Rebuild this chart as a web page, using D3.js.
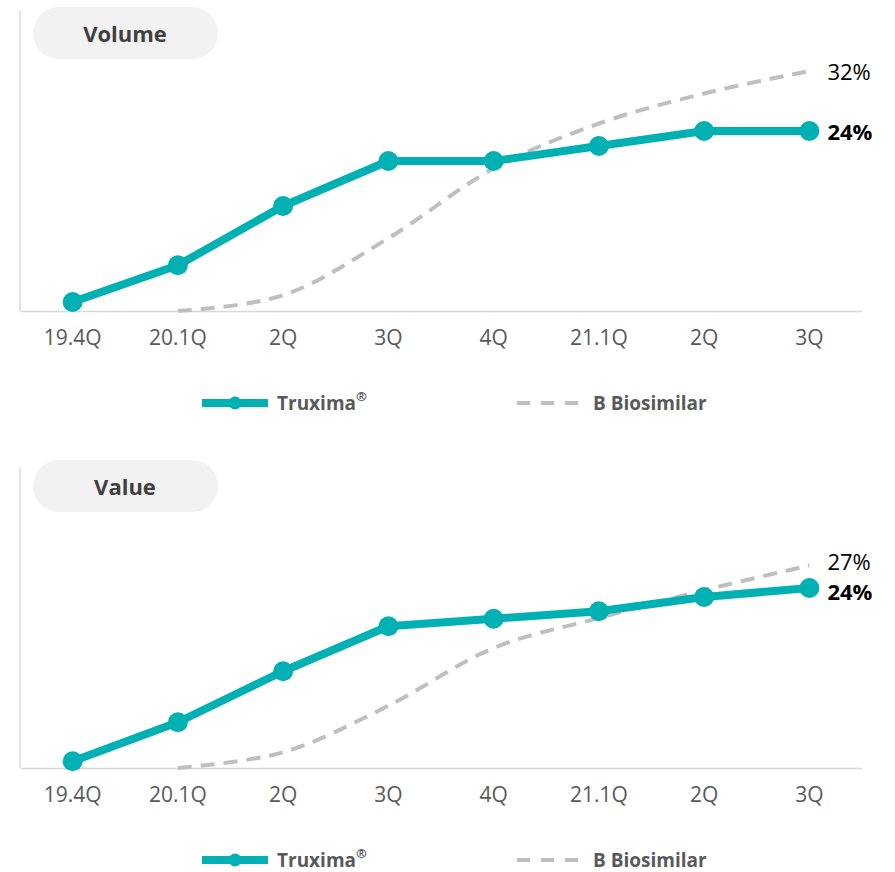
<!DOCTYPE html>
<html>
<head>
<meta charset="utf-8">
<script src="https://cdn.jsdelivr.net/npm/d3@7"></script>
<style>
  body { margin: 0; background: #fff; }
  svg text { font-family: "Open Sans", "Noto Sans", sans-serif; }
</style>
</head>
<body>
<div id="chart"></div>
<script>
//Chart data
var quarters = ["19.4Q", "20.1Q", "2Q", "3Q", "4Q", "21.1Q", "2Q", "3Q"];
var volumeTruxima = [1.2, 6.1, 14, 20, 20, 22, 24, 24];
var volumeBio = [null, 0, 2.1, 9.7, 19, 25, 29, 32];
var valueTruxima = [0.9, 6.1, 12.9, 18.9, 19.9, 20.9, 22.8, 24];
var valueBio = [null, 0, 2.1, 8.3, 16, 20, 23.7, 27];
var seriesNames = ["Truxima", "B Biosimilar"];

var svgWidth = 895;
var svgHeight = 872;
var teal = "#00b0b3";
var grey = "#bfbfbf";

var svg = d3.select("#chart")
    .append("svg")
    .attr("width", svgWidth)
    .attr("height", svgHeight);

//x scale shared by both panels (index based, labels repeat)
var xScale = d3.scaleBand()
    .domain(d3.range(quarters.length))
    .range([20, 862]);
var xMid = i => xScale(i) + xScale.bandwidth() / 2;

function drawPanel(offset, title, titleShift, trux, bio, labelOffsets) {
    var g = svg.append("g").attr("transform", `translate(0, ${offset})`);

    var yScale = d3.scaleLinear().domain([0, 40]).range([311, 11]);

    //left axis line
    g.append("line")
        .attr("x1", 20).attr("x2", 20)
        .attr("y1", yScale(40)).attr("y2", yScale(0))
        .attr("stroke", "#d9d9d9").attr("stroke-width", 1.5);

    //bottom axis
    var xAxis = g.append("g")
        .attr("transform", `translate(0, ${yScale(0)})`)
        .call(d3.axisBottom(xScale).tickSize(0).tickSizeOuter(0).tickPadding(19)
            .tickFormat(i => quarters[i]));
    xAxis.select(".domain").attr("stroke", "#d9d9d9").attr("stroke-width", 1.5);
    xAxis.selectAll("text")
        .attr("font-size", 21)
        .attr("fill", "#595959")
        .style("font-family", "'Open Sans', sans-serif");

    //title pill
    g.append("rect")
        .attr("x", 33).attr("y", 7 + titleShift)
        .attr("width", 185).attr("height", 52)
        .attr("rx", 26)
        .attr("fill", "#f2f2f2");
    g.append("text")
        .attr("x", 125).attr("y", 33 + titleShift)
        .attr("text-anchor", "middle")
        .attr("dominant-baseline", "central")
        .attr("font-size", 22)
        .attr("font-weight", "bold")
        .attr("fill", "#404040")
        .text(title);

    //biosimilar dashed curve
    var bioData = bio.map((v, i) => ({i: i, v: v})).filter(d => d.v !== null);
    var bioLine = d3.line()
        .x(d => xMid(d.i))
        .y(d => yScale(d.v))
        .curve(d3.curveCatmullRom.alpha(0.5));
    g.append("path")
        .datum(bioData)
        .attr("d", bioLine)
        .attr("fill", "none")
        .attr("stroke", grey)
        .attr("stroke-width", 4)
        .attr("stroke-dasharray", "14,9");

    //truxima line
    var truxData = trux.map((v, i) => ({i: i, v: v}));
    var truxLine = d3.line()
        .x(d => xMid(d.i))
        .y(d => yScale(d.v));
    g.append("path")
        .datum(truxData)
        .attr("d", truxLine)
        .attr("fill", "none")
        .attr("stroke", teal)
        .attr("stroke-width", 8)
        .attr("stroke-linejoin", "round");

    g.selectAll("circle.pt")
        .data(truxData)
        .enter()
        .append("circle")
        .attr("class", "pt")
        .attr("cx", d => xMid(d.i))
        .attr("cy", d => yScale(d.v))
        .attr("r", 10)
        .attr("fill", teal);

    //end labels
    var last = quarters.length - 1;
    g.append("text")
        .attr("x", xMid(last) + 18)
        .attr("y", yScale(bio[last]) + labelOffsets[0])
        .attr("dominant-baseline", "central")
        .attr("font-size", 22)
        .attr("fill", "#000")
        .text(bio[last] + "%");
    g.append("text")
        .attr("x", xMid(last) + 18)
        .attr("y", yScale(trux[last]) + labelOffsets[1])
        .attr("dominant-baseline", "central")
        .attr("font-size", 22)
        .attr("font-weight", "bold")
        .attr("fill", "#000")
        .text(trux[last] + "%");

    //legend
    var ly = 403;
    g.append("line")
        .attr("x1", 202).attr("x2", 268)
        .attr("y1", ly).attr("y2", ly)
        .attr("stroke", teal).attr("stroke-width", 8);
    g.append("circle")
        .attr("cx", 235).attr("cy", ly).attr("r", 6.5)
        .attr("fill", teal);
    var t1 = g.append("text")
        .attr("x", 277).attr("y", ly)
        .attr("dominant-baseline", "central")
        .attr("font-size", 19)
        .attr("font-weight", "bold")
        .attr("fill", "#595959")
        .text(seriesNames[0]);
    t1.append("tspan")
        .attr("font-size", 13)
        .attr("dy", -7)
        .text("®");

    g.append("line")
        .attr("x1", 517).attr("x2", 578)
        .attr("y1", ly).attr("y2", ly)
        .attr("stroke", grey).attr("stroke-width", 4)
        .attr("stroke-dasharray", "13,11");
    g.append("text")
        .attr("x", 593).attr("y", ly)
        .attr("dominant-baseline", "central")
        .attr("font-size", 19)
        .attr("font-weight", "bold")
        .attr("fill", "#595959")
        .text(seriesNames[1]);
}

drawPanel(0, "Volume", 0, volumeTruxima, volumeBio, [0, 0]);
drawPanel(457, "Value", -4, valueTruxima, valueBio, [-5, 3]);
</script>
</body>
</html>
